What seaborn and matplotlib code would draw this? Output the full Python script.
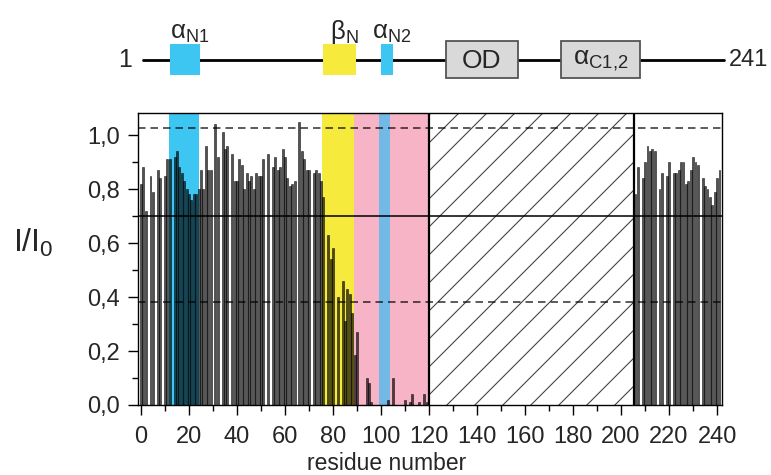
import numpy as np
import pandas as pd
import matplotlib
matplotlib.use("Agg")
import matplotlib.pyplot as plt
from matplotlib.patches import Rectangle
from matplotlib.ticker import MultipleLocator, FuncFormatter
import seaborn as sns

# I/I0 per residue, N-terminal part (residue 0..119), NaN = no peak
n_first = 0
n_values = [
    0.82, 0.88, 0.72, np.nan, 0.85, 0.79, np.nan, 0.87, 0.84, np.nan,
    0.85, 0.91, 0.91, np.nan, 0.92, 0.94, 0.88, 0.86, 0.83, 0.80,
    0.78, 0.76, 0.78, 0.78, 0.80, 0.87, 0.80, 0.96, 0.87, 0.87,
    np.nan, 1.04, 0.92, np.nan, 1.01, 0.95, 0.96, np.nan, 0.93, 0.83,
    0.83, 0.91, 0.89, 0.80, 0.86, 0.83, 0.85, 0.80, 0.86, 0.85,
    0.85, 0.91, np.nan, 0.93, np.nan, 0.88, 0.92, 0.87, 0.88, 0.95,
    0.92, 0.84, 0.81, 0.82, 0.83, np.nan, 1.05, 0.94, 0.91, 0.87,
    0.87, np.nan, 0.86, 0.87, 0.86, 0.83, 0.77, np.nan, 0.63, 0.54,
    0.58, np.nan, 0.40, np.nan, 0.46, 0.31, 0.43, 0.41, 0.34, 0.185,
    0.27, np.nan, np.nan, np.nan, 0.10, 0.08, 0.01, np.nan, np.nan, np.nan,
    np.nan, np.nan, np.nan, 0.02, np.nan, 0.10, np.nan, np.nan, np.nan, np.nan,
    0.02, np.nan, 0.01, 0.04, np.nan, np.nan, 0.01, np.nan, 0.04, 0.01,
]
# C-terminal part (residue 206..241)
c_first = 206
c_values = [
    0.78, 0.88, np.nan, 0.84, 0.90, 0.96, 0.94, 0.95, 0.94, np.nan,
    0.80, 0.86, np.nan, 0.85, 0.90, np.nan, 0.86, 0.86, 0.87, 0.90,
    0.90, 0.82, 0.83, 0.87, 0.92, 0.90, 0.89, np.nan, 0.84, 0.81,
    0.80, 0.77, 0.74, 0.79, 0.84, 0.87,
]
n_residues = 241

# reference levels
upper_dash = 1.026
mean_level = 0.70
lower_dash = 0.38

# shaded regions in the bar plot
shade_start = [11.5, 75.5, 88.75, 99.0]
shade_end = [24.0, 88.75, 120.0, 103.75]
shade_color = ["#3ec6f3", "#f6ea3c", "#f7b4c7", "#72b9e6"]
missing_start, missing_end = 120.0, 205.6

# domain map on top
domain_labels = [r"α$_\mathregular{N1}$", r"β$_\mathregular{N}$", r"α$_\mathregular{N2}$",
                 "OD", r"α$_\mathregular{C1{,}2}$"]
domain_start = [12, 76, 100, 127, 175]
domain_end = [24.5, 89.5, 105, 157, 208]
domain_color = ["#3ec6f3", "#f6ea3c", "#3ec6f3", "#d9d9d9", "#d9d9d9"]

sns.set_style("ticks")
plt.rcParams["font.family"] = ["Liberation Sans", "DejaVu Sans"]
plt.rcParams["mathtext.fontset"] = "custom"
plt.rcParams["mathtext.rm"] = "Liberation Sans"
plt.rcParams["mathtext.it"] = "Liberation Sans:italic"

df = pd.concat([
    pd.DataFrame({"residue": np.arange(n_first, n_first + len(n_values)), "ratio": n_values}),
    pd.DataFrame({"residue": np.arange(c_first, c_first + len(c_values)), "ratio": c_values}),
]).dropna()

fig = plt.figure(figsize=(7.71, 4.75), dpi=100)
ax = fig.add_axes([0.1794, 0.1474, 0.7575, 0.6154])
xlim = (-1.1, 242.2)
ylim = (0, 1.083)

for s, e, c in zip(shade_start, shade_end, shade_color):
    ax.axvspan(s, e, color=c, lw=0, zorder=0)

gap = Rectangle((missing_start, ylim[0]), missing_end - missing_start, ylim[1] - ylim[0],
                facecolor="white", edgecolor="none", zorder=0.5)
ax.add_patch(gap)

sns.barplot(data=df, x="residue", y="ratio", native_scale=True, width=0.78,
            color="black", alpha=0.68, edgecolor="black", linewidth=0.5,
            errorbar=None, ax=ax, zorder=2)

# hatch of the unassigned part, 45 deg in screen space
px_x = 0.7575 * 771 / (xlim[1] - xlim[0])
px_y = 0.6154 * 475 / (ylim[1] - ylim[0])
k = px_x / px_y
step = 28 / px_y
for y0 in np.arange(-1.0, 1.2, step):
    xs = np.array([missing_start, missing_end])
    ln, = ax.plot(xs, y0 + (xs - missing_start) * k, color="#444444", lw=0.8, zorder=1)
    ln.set_clip_path(gap)

ax.axhline(upper_dash, color="black", lw=1.2, ls=(0, (4.5, 3)), alpha=0.75, zorder=3)
ax.axhline(lower_dash, color="black", lw=1.2, ls=(0, (4.5, 3)), alpha=0.75, zorder=3)
ax.axhline(mean_level, color="black", lw=1.3, alpha=0.85, zorder=3)
ax.axvline(missing_start, color="black", lw=1.6, zorder=4)
ax.axvline(missing_end, color="black", lw=1.6, zorder=4)

ax.set_xlim(*xlim)
ax.set_ylim(*ylim)
ax.xaxis.set_major_locator(MultipleLocator(20))
ax.xaxis.set_minor_locator(MultipleLocator(10))
ax.yaxis.set_major_locator(MultipleLocator(0.2))
ax.yaxis.set_minor_locator(MultipleLocator(0.1))
ax.xaxis.set_major_formatter(FuncFormatter(lambda v, _: f"{v:.0f}"))
ax.yaxis.set_major_formatter(FuncFormatter(lambda v, _: f"{v:.1f}".replace(".", ",")))
ax.tick_params(which="major", direction="out", length=7, width=1, labelsize=17, color="black")
ax.tick_params(axis="y", which="major", pad=6)
ax.tick_params(axis="x", which="major", pad=8)
ax.tick_params(which="minor", direction="out", length=4, width=1, color="black")
for sp in ax.spines.values():
    sp.set_visible(True)
    sp.set_color("black")
    sp.set_linewidth(1.0)
    sp.set_zorder(5)
ax.set_xlabel("residue number", fontsize=16.5)
ax.set_ylabel("")
ax.xaxis.set_label_coords(0.426, -0.16)
fig.text(33 / 771, 1 - 243 / 475, r"I/I$_\mathregular{0}$", fontsize=23, ha="center", va="center")

# domain map
top = fig.add_axes([0.1794, 1 - 100 / 475, 0.7575, 100 / 475])
top.set_xlim(*xlim)
top.set_ylim(100, 0)
top.axis("off")
top.plot([1, n_residues + 2], [60, 60], color="black", lw=2, zorder=1, clip_on=False)
top.annotate("1", (1, 60), xytext=(-8, 0), textcoords="offset points",
             ha="right", va="center", fontsize=18)
top.annotate(str(n_residues), (n_residues + 2, 60), xytext=(3, 0), textcoords="offset points",
             ha="left", va="center", fontsize=17, annotation_clip=False)
for lab, s, e, c in zip(domain_labels, domain_start, domain_end, domain_color):
    mid = (s + e) / 2
    if c == "#d9d9d9":
        top.add_patch(Rectangle((s, 41), e - s, 37, facecolor=c, edgecolor="#555555", lw=1.3, zorder=2))
        top.text(mid, 61, lab, ha="center", va="center", fontsize=19, zorder=3)
    else:
        top.add_patch(Rectangle((s, 44), e - s, 31, facecolor=c, edgecolor="none", zorder=2))
        top.text(mid + 2, 39, lab, ha="center", va="baseline", fontsize=18.5)

fig.savefig("out.png", dpi=100)
